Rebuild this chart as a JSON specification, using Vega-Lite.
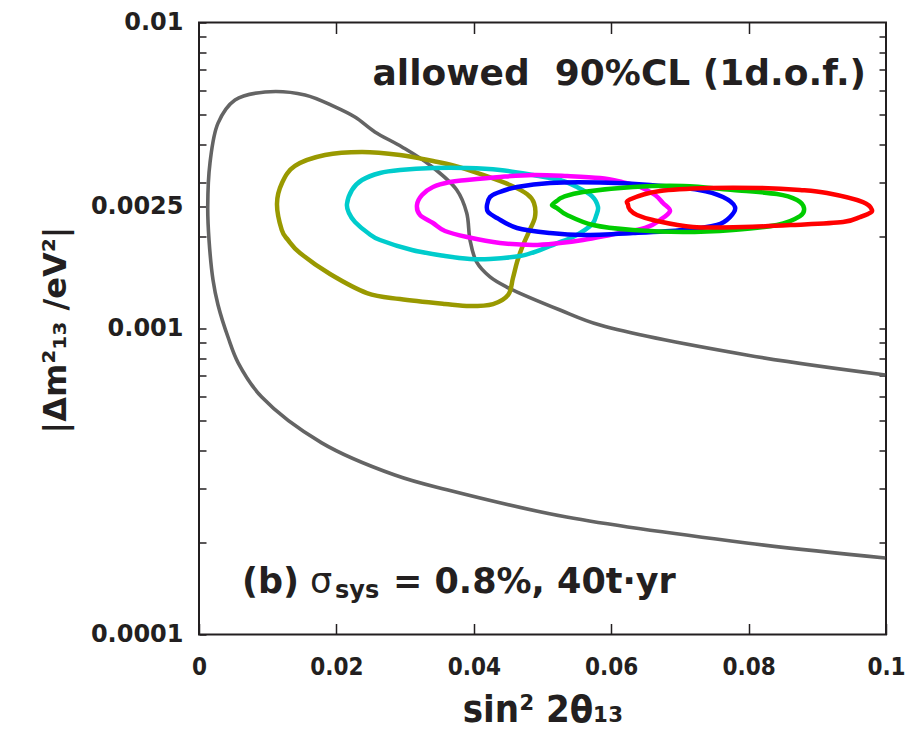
{
  "$schema": "https://vega.github.io/schema/vega-lite/v6.json",
  "autosize": {"type": "none"},
  "padding": {"left": 199, "top": 22.5, "right": 23, "bottom": 98.5},
  "width": 687,
  "height": 612,
  "background": "white",
  "config": {
    "view": {"stroke": "#231f20", "strokeWidth": 2},
    "axis": {"domain": false, "grid": false, "tickColor": "#231f20", "tickWidth": 1.5, "labelColor": "#231f20", "titleColor": "#231f20", "labelFlush": false, "labelOverlap": false, "labelBound": false}
  },
  "datasets": {
    "gray": [
      {"i": 1, "x": 0.0999, "y": 0.0001778},
      {"i": 2, "x": 0.0797, "y": 0.0001991},
      {"i": 3, "x": 0.0535, "y": 0.000242},
      {"i": 4, "x": 0.0361, "y": 0.000297},
      {"i": 5, "x": 0.0285, "y": 0.000332},
      {"i": 6, "x": 0.01786, "y": 0.000423},
      {"i": 7, "x": 0.00913, "y": 0.000597},
      {"i": 8, "x": 0.00572, "y": 0.000771},
      {"i": 9, "x": 0.00427, "y": 0.000931},
      {"i": 10, "x": 0.00277, "y": 0.001194},
      {"i": 11, "x": 0.00204, "y": 0.00144},
      {"i": 12, "x": 0.00146, "y": 0.001946},
      {"i": 13, "x": 0.00127, "y": 0.002495},
      {"i": 14, "x": 0.0016, "y": 0.003475},
      {"i": 15, "x": 0.00277, "y": 0.00469},
      {"i": 16, "x": 0.00524, "y": 0.00558},
      {"i": 17, "x": 0.00961, "y": 0.00593},
      {"i": 18, "x": 0.01543, "y": 0.0058},
      {"i": 19, "x": 0.0198, "y": 0.0053},
      {"i": 20, "x": 0.0227, "y": 0.00491},
      {"i": 21, "x": 0.0256, "y": 0.00439},
      {"i": 22, "x": 0.02955, "y": 0.00392},
      {"i": 23, "x": 0.0336, "y": 0.00342},
      {"i": 24, "x": 0.0375, "y": 0.00284},
      {"i": 25, "x": 0.03897, "y": 0.002385},
      {"i": 26, "x": 0.03945, "y": 0.001946},
      {"i": 27, "x": 0.0404, "y": 0.00165},
      {"i": 28, "x": 0.04236, "y": 0.001474},
      {"i": 29, "x": 0.04479, "y": 0.001366},
      {"i": 30, "x": 0.05255, "y": 0.001149},
      {"i": 31, "x": 0.05837, "y": 0.001026},
      {"i": 32, "x": 0.0797, "y": 0.000819},
      {"i": 33, "x": 0.0999, "y": 0.000705}
    ],
    "contours": [
      {"s": "olive", "i": 0, "x": 0.01135, "y": 0.002553},
      {"s": "olive", "i": 1, "x": 0.01204, "y": 0.002099},
      {"s": "olive", "i": 2, "x": 0.01296, "y": 0.001946},
      {"s": "olive", "i": 3, "x": 0.0147, "y": 0.001765},
      {"s": "olive", "i": 4, "x": 0.01907, "y": 0.001507},
      {"s": "olive", "i": 5, "x": 0.02445, "y": 0.001306},
      {"s": "olive", "i": 6, "x": 0.02926, "y": 0.001248},
      {"s": "olive", "i": 7, "x": 0.0358, "y": 0.001202},
      {"s": "olive", "i": 8, "x": 0.03945, "y": 0.001184},
      {"s": "olive", "i": 9, "x": 0.0428, "y": 0.001202},
      {"s": "olive", "i": 10, "x": 0.045, "y": 0.001287},
      {"s": "olive", "i": 11, "x": 0.0457, "y": 0.001462},
      {"s": "olive", "i": 12, "x": 0.0463, "y": 0.00165},
      {"s": "olive", "i": 13, "x": 0.047, "y": 0.001832},
      {"s": "olive", "i": 14, "x": 0.048, "y": 0.002067},
      {"s": "olive", "i": 15, "x": 0.0489, "y": 0.002313},
      {"s": "olive", "i": 16, "x": 0.04876, "y": 0.00257},
      {"s": "olive", "i": 17, "x": 0.04774, "y": 0.00275},
      {"s": "olive", "i": 18, "x": 0.04527, "y": 0.002944},
      {"s": "olive", "i": 19, "x": 0.04134, "y": 0.003175},
      {"s": "olive", "i": 20, "x": 0.03726, "y": 0.0034},
      {"s": "olive", "i": 21, "x": 0.03406, "y": 0.003526},
      {"s": "olive", "i": 22, "x": 0.02926, "y": 0.00369},
      {"s": "olive", "i": 23, "x": 0.02373, "y": 0.003774},
      {"s": "olive", "i": 24, "x": 0.01834, "y": 0.00369},
      {"s": "olive", "i": 25, "x": 0.01397, "y": 0.0034},
      {"s": "olive", "i": 26, "x": 0.01208, "y": 0.00299},

      {"s": "cyan", "i": 0, "x": 0.02154, "y": 0.002552},
      {"s": "cyan", "i": 1, "x": 0.02227, "y": 0.002836},
      {"s": "cyan", "i": 2, "x": 0.02373, "y": 0.003057},
      {"s": "cyan", "i": 3, "x": 0.02635, "y": 0.003223},
      {"s": "cyan", "i": 4, "x": 0.02926, "y": 0.003296},
      {"s": "cyan", "i": 5, "x": 0.03406, "y": 0.003346},
      {"s": "cyan", "i": 6, "x": 0.03901, "y": 0.003346},
      {"s": "cyan", "i": 7, "x": 0.04381, "y": 0.003296},
      {"s": "cyan", "i": 8, "x": 0.04862, "y": 0.003175},
      {"s": "cyan", "i": 9, "x": 0.05255, "y": 0.003057},
      {"s": "cyan", "i": 10, "x": 0.05502, "y": 0.002901},
      {"s": "cyan", "i": 11, "x": 0.0572, "y": 0.00271},
      {"s": "cyan", "i": 12, "x": 0.05808, "y": 0.002495},
      {"s": "cyan", "i": 13, "x": 0.05779, "y": 0.00233},
      {"s": "cyan", "i": 14, "x": 0.05735, "y": 0.002212},
      {"s": "cyan", "i": 15, "x": 0.05619, "y": 0.002099},
      {"s": "cyan", "i": 16, "x": 0.05444, "y": 0.001991},
      {"s": "cyan", "i": 17, "x": 0.05182, "y": 0.001888},
      {"s": "cyan", "i": 18, "x": 0.04964, "y": 0.001805},
      {"s": "cyan", "i": 19, "x": 0.04672, "y": 0.001726},
      {"s": "cyan", "i": 20, "x": 0.04236, "y": 0.001687},
      {"s": "cyan", "i": 21, "x": 0.03945, "y": 0.001687},
      {"s": "cyan", "i": 22, "x": 0.03581, "y": 0.001726},
      {"s": "cyan", "i": 23, "x": 0.031, "y": 0.001805},
      {"s": "cyan", "i": 24, "x": 0.02635, "y": 0.001946},
      {"s": "cyan", "i": 25, "x": 0.0246, "y": 0.002051},
      {"s": "cyan", "i": 26, "x": 0.02271, "y": 0.002228},
      {"s": "cyan", "i": 27, "x": 0.02183, "y": 0.002385},

      {"s": "magenta", "i": 0, "x": 0.03173, "y": 0.002533},
      {"s": "magenta", "i": 1, "x": 0.03246, "y": 0.002731},
      {"s": "magenta", "i": 2, "x": 0.03406, "y": 0.002901},
      {"s": "magenta", "i": 3, "x": 0.03654, "y": 0.003011},
      {"s": "magenta", "i": 4, "x": 0.03901, "y": 0.003057},
      {"s": "magenta", "i": 5, "x": 0.04381, "y": 0.003128},
      {"s": "magenta", "i": 6, "x": 0.04862, "y": 0.003175},
      {"s": "magenta", "i": 7, "x": 0.05357, "y": 0.003151},
      {"s": "magenta", "i": 8, "x": 0.05837, "y": 0.003104},
      {"s": "magenta", "i": 9, "x": 0.06157, "y": 0.003011},
      {"s": "magenta", "i": 10, "x": 0.06419, "y": 0.002901},
      {"s": "magenta", "i": 11, "x": 0.06638, "y": 0.002731},
      {"s": "magenta", "i": 12, "x": 0.06754, "y": 0.00257},
      {"s": "magenta", "i": 13, "x": 0.06856, "y": 0.002421},
      {"s": "magenta", "i": 14, "x": 0.0671, "y": 0.002262},
      {"s": "magenta", "i": 15, "x": 0.06492, "y": 0.00213},
      {"s": "magenta", "i": 16, "x": 0.05983, "y": 0.002021},
      {"s": "magenta", "i": 17, "x": 0.0559, "y": 0.001946},
      {"s": "magenta", "i": 18, "x": 0.05255, "y": 0.001903},
      {"s": "magenta", "i": 19, "x": 0.04862, "y": 0.001875},
      {"s": "magenta", "i": 20, "x": 0.04381, "y": 0.001903},
      {"s": "magenta", "i": 21, "x": 0.03901, "y": 0.001991},
      {"s": "magenta", "i": 22, "x": 0.03581, "y": 0.002083},
      {"s": "magenta", "i": 23, "x": 0.03406, "y": 0.002212},
      {"s": "magenta", "i": 24, "x": 0.03217, "y": 0.002349},

      {"s": "blue", "i": 0, "x": 0.04192, "y": 0.002533},
      {"s": "blue", "i": 1, "x": 0.04236, "y": 0.002689},
      {"s": "blue", "i": 2, "x": 0.04338, "y": 0.002772},
      {"s": "blue", "i": 3, "x": 0.04629, "y": 0.002901},
      {"s": "blue", "i": 4, "x": 0.05109, "y": 0.00299},
      {"s": "blue", "i": 5, "x": 0.05837, "y": 0.002999},
      {"s": "blue", "i": 6, "x": 0.06565, "y": 0.002944},
      {"s": "blue", "i": 7, "x": 0.0728, "y": 0.002836},
      {"s": "blue", "i": 8, "x": 0.07627, "y": 0.002689},
      {"s": "blue", "i": 9, "x": 0.07802, "y": 0.002495},
      {"s": "blue", "i": 10, "x": 0.07729, "y": 0.002313},
      {"s": "blue", "i": 11, "x": 0.0754, "y": 0.002179},
      {"s": "blue", "i": 12, "x": 0.07045, "y": 0.002099},
      {"s": "blue", "i": 13, "x": 0.06317, "y": 0.002051},
      {"s": "blue", "i": 14, "x": 0.0559, "y": 0.002021},
      {"s": "blue", "i": 15, "x": 0.05109, "y": 0.002051},
      {"s": "blue", "i": 16, "x": 0.04629, "y": 0.00213},
      {"s": "blue", "i": 17, "x": 0.04338, "y": 0.002296},
      {"s": "blue", "i": 18, "x": 0.04207, "y": 0.002403},

      {"s": "green", "i": 0, "x": 0.05138, "y": 0.002533},
      {"s": "green", "i": 1, "x": 0.05226, "y": 0.00263},
      {"s": "green", "i": 2, "x": 0.05298, "y": 0.002689},
      {"s": "green", "i": 3, "x": 0.0559, "y": 0.002793},
      {"s": "green", "i": 4, "x": 0.06317, "y": 0.002901},
      {"s": "green", "i": 5, "x": 0.07045, "y": 0.002923},
      {"s": "green", "i": 6, "x": 0.07773, "y": 0.002836},
      {"s": "green", "i": 7, "x": 0.08413, "y": 0.00275},
      {"s": "green", "i": 8, "x": 0.08705, "y": 0.00263},
      {"s": "green", "i": 9, "x": 0.08806, "y": 0.002476},
      {"s": "green", "i": 10, "x": 0.08748, "y": 0.00233},
      {"s": "green", "i": 11, "x": 0.08413, "y": 0.002179},
      {"s": "green", "i": 12, "x": 0.07773, "y": 0.002099},
      {"s": "green", "i": 13, "x": 0.07045, "y": 0.002067},
      {"s": "green", "i": 14, "x": 0.06317, "y": 0.002099},
      {"s": "green", "i": 15, "x": 0.05735, "y": 0.002179},
      {"s": "green", "i": 16, "x": 0.05357, "y": 0.002349},
      {"s": "green", "i": 17, "x": 0.05211, "y": 0.002476},

      {"s": "red", "i": 0, "x": 0.06245, "y": 0.002533},
      {"s": "red", "i": 1, "x": 0.0627, "y": 0.00264},
      {"s": "red", "i": 2, "x": 0.0671, "y": 0.002814},
      {"s": "red", "i": 3, "x": 0.07438, "y": 0.002879},
      {"s": "red", "i": 4, "x": 0.08166, "y": 0.002879},
      {"s": "red", "i": 5, "x": 0.08748, "y": 0.002836},
      {"s": "red", "i": 6, "x": 0.09141, "y": 0.002772},
      {"s": "red", "i": 7, "x": 0.09665, "y": 0.00259},
      {"s": "red", "i": 8, "x": 0.09796, "y": 0.002439},
      {"s": "red", "i": 9, "x": 0.09738, "y": 0.002367},
      {"s": "red", "i": 10, "x": 0.09621, "y": 0.002313},
      {"s": "red", "i": 11, "x": 0.09374, "y": 0.002228},
      {"s": "red", "i": 12, "x": 0.08646, "y": 0.002179},
      {"s": "red", "i": 13, "x": 0.07918, "y": 0.002146},
      {"s": "red", "i": 14, "x": 0.07191, "y": 0.002146},
      {"s": "red", "i": 15, "x": 0.06608, "y": 0.002262},
      {"s": "red", "i": 16, "x": 0.06376, "y": 0.002349},
      {"s": "red", "i": 17, "x": 0.06274, "y": 0.002439}
    ]
  },
  "layer": [
    {
      "data": {"name": "gray"},
      "mark": {"type": "line", "interpolate": "catmull-rom", "color": "#646464", "strokeWidth": 3.6},
      "encoding": {
        "x": {"field": "x", "type": "quantitative", "scale": {"domain": [0, 0.1], "nice": false, "zero": false},
          "axis": {"orient": "bottom", "values": [0, 0.02, 0.04, 0.06, 0.08, 0.1], "format": "~g",
            "tickSize": -11, "labelPadding": 31.5, "labelFont": "DejaVu Sans Condensed", "labelFontWeight": "bold", "labelFontSize": 24,
            "title": "sin² 2θ₁₃", "titleFont": "DejaVu Sans Condensed", "titleFontWeight": "bold", "titleFontSize": 38,
            "titleBaseline": "alphabetic", "titleX": 343.5, "titleY": 87, "titleAlign": "center"}},
        "y": {"field": "y", "type": "quantitative", "scale": {"type": "log", "domain": [0.0001, 0.01], "nice": false},
          "axis": {"orient": "left",
            "values": [0.0001, 0.0002, 0.0003, 0.0004, 0.0005, 0.0006, 0.0007, 0.0008, 0.0009, 0.001, 0.002, 0.0025, 0.003, 0.004, 0.005, 0.006, 0.007, 0.008, 0.009, 0.01],
            "format": "~g",
            "labelExpr": "(datum.value === 0.0001 || datum.value === 0.001 || datum.value === 0.0025 || datum.value === 0.01) ? datum.label : ''",
            "tickSize": -7, "labelPadding": 23,
            "labelFont": "DejaVu Sans", "labelFontWeight": "bold", "labelFontSize": 24,
            "title": "|Δm²₁₃ /eV²|", "titleFont": "DejaVu Sans", "titleFontWeight": "bold", "titleFontSize": 32,
            "titleBaseline": "alphabetic", "titleX": -134, "titleY": 307, "titleAlign": "center", "titleAngle": 270}},
        "order": {"field": "i", "type": "quantitative"}
      }
    },
    {
      "data": {"name": "contours"},
      "mark": {"type": "line", "interpolate": "cardinal-closed", "strokeWidth": 4.5},
      "encoding": {
        "x": {"field": "x", "type": "quantitative", "scale": {"domain": [0, 0.1], "nice": false, "zero": false},
          "axis": {"orient": "top", "values": [0.02, 0.04, 0.06, 0.08], "labels": false, "title": null, "tickSize": -11}},
        "y": {"field": "y", "type": "quantitative", "scale": {"type": "log", "domain": [0.0001, 0.01], "nice": false},
          "axis": {"orient": "right", "labels": false, "title": null,
            "values": [0.0002, 0.0003, 0.0004, 0.0005, 0.0006, 0.0007, 0.0008, 0.0009, 0.001, 0.002, 0.003, 0.004, 0.005, 0.006, 0.007, 0.008, 0.009],
            "tickSize": -7}},
        "color": {"field": "s", "type": "nominal", "legend": null,
          "scale": {"domain": ["olive", "cyan", "magenta", "blue", "green", "red"], "range": ["#999900", "#00cccc", "#ff00ff", "#0000ff", "#00cc00", "#ff0000"]}},
        "order": {"field": "i", "type": "quantitative"}
      }
    },
    {
      "mark": {"type": "rule", "color": "#231f20", "strokeWidth": 1.2, "strokeDash": [19, 10]},
      "encoding": {
        "x": {"datum": 0.0004, "type": "quantitative", "scale": {"domain": [0, 0.1], "nice": false, "zero": false}, "axis": null},
        "x2": {"datum": 0.0985},
        "y": {"datum": 0.0025, "type": "quantitative", "scale": {"type": "log", "domain": [0.0001, 0.01], "nice": false}, "axis": null}
      }
    },
    {
      "data": {"values": [{"tx": 0.09709, "ty": 0.006248, "label": "allowed\u00a0\u00a090%CL (1d.o.f.)"}]},
      "mark": {"type": "text", "align": "right", "baseline": "alphabetic", "font": "DejaVu Sans", "fontWeight": "bold", "fontSize": 36, "color": "#231f20"},
      "encoding": {
        "x": {"field": "tx", "type": "quantitative", "scale": {"domain": [0, 0.1], "nice": false, "zero": false}, "axis": null},
        "y": {"field": "ty", "type": "quantitative", "scale": {"type": "log", "domain": [0.0001, 0.01], "nice": false}, "axis": null},
        "text": {"field": "label"}
      }
    },
    {
      "data": {"values": [{"tx": 0.00626, "ty": 0.00013631, "label": "(b)"}, {"tx": 0.02824, "ty": 0.00013631, "label": "= 0.8%, 40t·yr"}]},
      "mark": {"type": "text", "align": "left", "baseline": "alphabetic", "font": "DejaVu Sans", "fontWeight": "bold", "fontSize": 35, "color": "#231f20"},
      "encoding": {
        "x": {"field": "tx", "type": "quantitative", "scale": {"domain": [0, 0.1], "nice": false, "zero": false}, "axis": null},
        "y": {"field": "ty", "type": "quantitative", "scale": {"type": "log", "domain": [0.0001, 0.01], "nice": false}, "axis": null},
        "text": {"field": "label"}
      }
    },
    {
      "data": {"values": [{"tx": 0.01616, "ty": 0.00013631, "label": "σ"}]},
      "mark": {"type": "text", "align": "left", "baseline": "alphabetic", "font": "DejaVu Sans", "fontWeight": "normal", "fontSize": 35, "color": "#231f20"},
      "encoding": {
        "x": {"field": "tx", "type": "quantitative", "scale": {"domain": [0, 0.1], "nice": false, "zero": false}, "axis": null},
        "y": {"field": "ty", "type": "quantitative", "scale": {"type": "log", "domain": [0.0001, 0.01], "nice": false}, "axis": null},
        "text": {"field": "label"}
      }
    },
    {
      "data": {"values": [{"tx": 0.0198, "ty": 0.0001316, "label": "sys"}]},
      "mark": {"type": "text", "align": "left", "baseline": "alphabetic", "font": "DejaVu Sans", "fontWeight": "bold", "fontSize": 24, "color": "#231f20"},
      "encoding": {
        "x": {"field": "tx", "type": "quantitative", "scale": {"domain": [0, 0.1], "nice": false, "zero": false}, "axis": null},
        "y": {"field": "ty", "type": "quantitative", "scale": {"type": "log", "domain": [0.0001, 0.01], "nice": false}, "axis": null},
        "text": {"field": "label"}
      }
    }
  ],
  "resolve": {"axis": {"x": "independent", "y": "independent"}}
}
